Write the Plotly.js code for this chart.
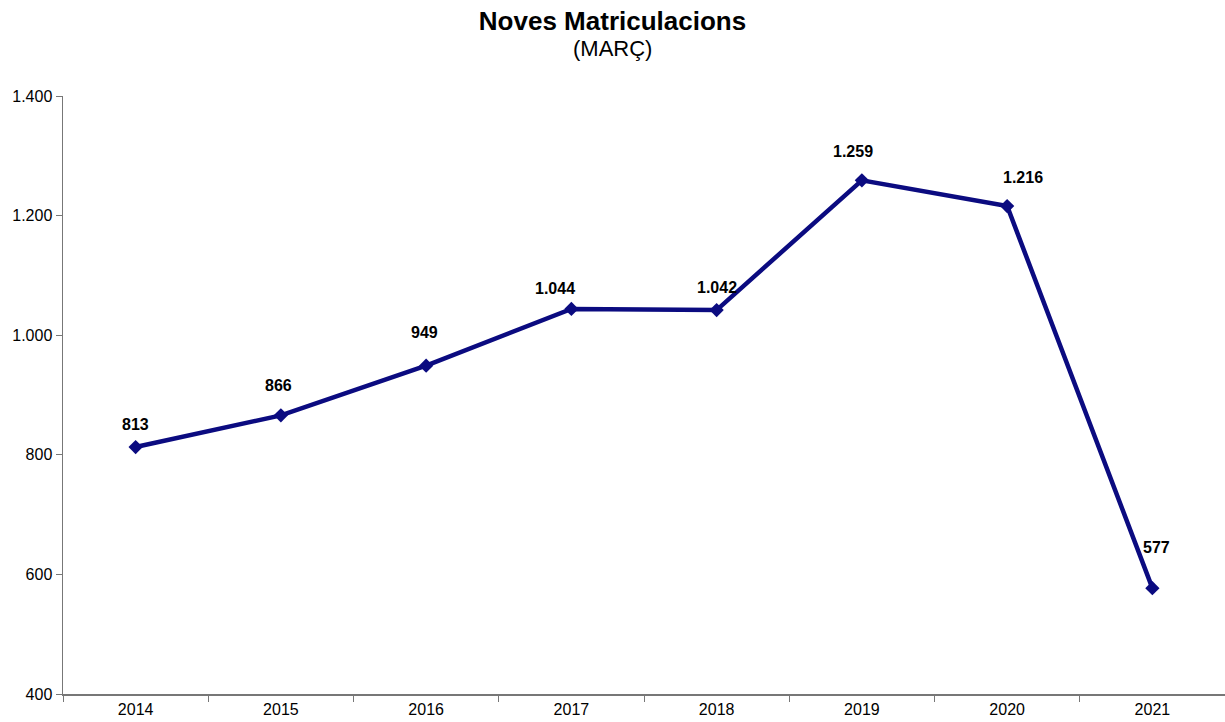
<!DOCTYPE html>
<html>
<head>
<meta charset="utf-8">
<script src="https://cdn.plot.ly/plotly-3.0.1.min.js"></script>
<style>html,body{margin:0;padding:0;background:#fff;}#chart{width:1225px;height:722px;}</style>
</head>
<body>
<div id="chart"></div>
<script>
const years = ["2014","2015","2016","2017","2018","2019","2020","2021"];
const matriculacions = [813, 866, 949, 1044, 1042, 1259, 1216, 577];
const yTicks = [400, 600, 800, 1000, 1200, 1400];

// label placement (style only, pixels relative to each point)
const labelDx = [0, -2, -2, -16, 0, -9, 16, 4];
const labelDy = [23, 30, 33, 20, 23, 29, 29, 41];

function fmt(v){ return String(v).replace(/\B(?=(\d{3})+(?!\d))/g, "."); }

const trace = {
  x: years, y: matriculacions, type: "scatter", mode: "lines+markers",
  line: {color: "#0b0b80", width: 4.5},
  marker: {symbol: "diamond", size: 11, color: "#0b0b80"},
  hoverinfo: "x+y"
};

const annotations = years.map((yr, i) => ({
  x: i, y: matriculacions[i], xref: "x", yref: "y",
  text: "<b>" + fmt(matriculacions[i]) + "</b>",
  showarrow: false, xshift: labelDx[i], yshift: labelDy[i],
  font: {family: "Liberation Sans, Arial, sans-serif", size: 16, color: "#000"}
}));
annotations.push({
  xref: "paper", yref: "paper", x: 0.5 - 63/2/1162, y: 1 + (96 - 48.5) / 598,
  xanchor: "center", yanchor: "middle", showarrow: false,
  text: "(MARÇ)", font: {family: "Liberation Sans, Arial, sans-serif", size: 22, color: "#000"}
});

const layout = {
  width: 1225, height: 722,
  margin: {l: 63, r: 0, t: 96, b: 28},
  paper_bgcolor: "#fff", plot_bgcolor: "#fff",
  separators: ",.",
  font: {family: "Liberation Sans, Arial, sans-serif", size: 16, color: "#000"},
  title: {
    text: "<b>Noves Matriculacions</b>",
    font: {size: 26, color: "#000"},
    x: 0.5, xanchor: "center", y: 1 - 20.5/722, yanchor: "middle", yref: "container"
  },
  showlegend: false,
  xaxis: {
    type: "category", tickson: "boundaries", ticks: "outside", ticklen: 6, tickcolor: "#777",
    showline: true, linecolor: "#777", linewidth: 1.5, showgrid: false, zeroline: false,
    range: [-0.5, years.length - 0.5], fixedrange: true, tickfont: {size: 16}
  },
  yaxis: {
    range: [400, 1400], tickvals: yTicks, ticktext: yTicks.map(fmt),
    ticks: "outside", ticklen: 6, tickcolor: "#777",
    showline: true, linecolor: "#777", linewidth: 1.5, showgrid: false, zeroline: false,
    tickfont: {size: 16}
  },
  annotations: annotations
};

Plotly.newPlot("chart", [trace], layout, {displayModeBar: false, staticPlot: true});
</script>
</body>
</html>
